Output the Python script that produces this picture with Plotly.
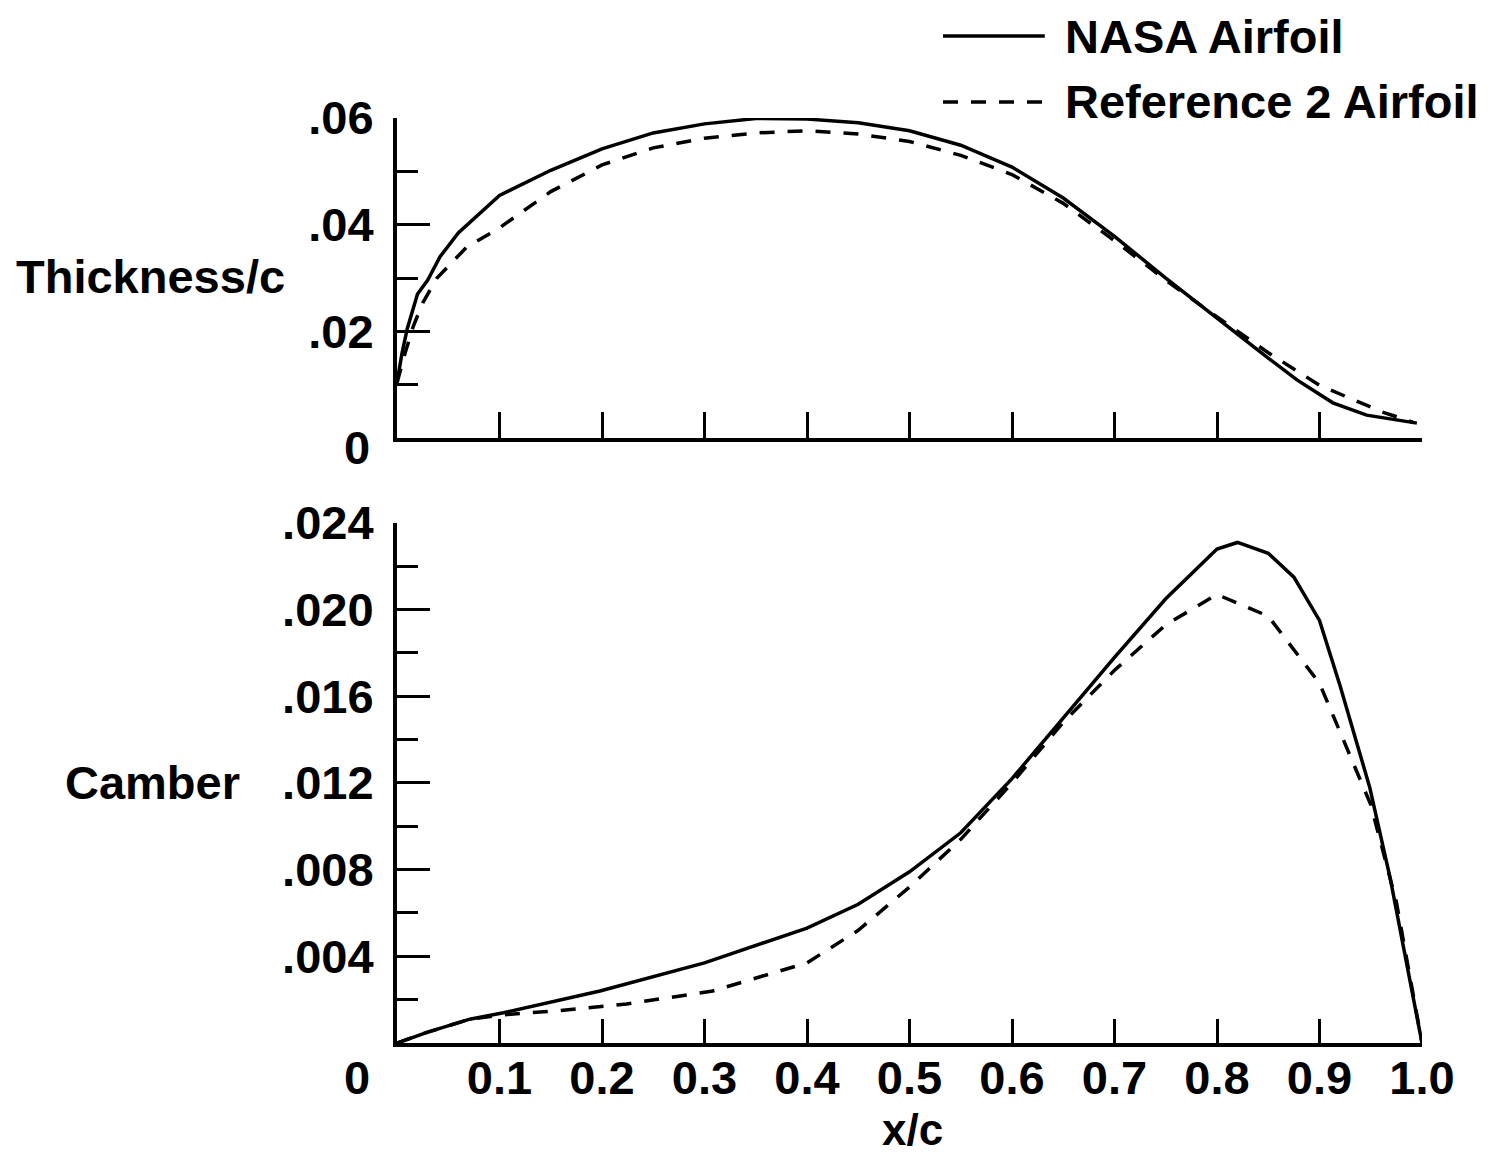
import plotly.graph_objects as go

# ---------------- data ----------------
series_names = ["NASA Airfoil", "Reference 2 Airfoil"]

thick_x_nasa = [0.0, 0.005, 0.01, 0.02, 0.03, 0.042, 0.06, 0.081, 0.1, 0.15, 0.2, 0.25, 0.3, 0.35,
                0.4, 0.45, 0.5, 0.55, 0.6, 0.65, 0.7, 0.75, 0.8, 0.85, 0.878, 0.913, 0.946, 0.979, 0.995]
thick_y_nasa = [0.0105, 0.016, 0.0205, 0.027, 0.0296, 0.034, 0.0385, 0.0422, 0.0455, 0.0502, 0.0542,
                0.0572, 0.0589, 0.0599, 0.0598, 0.0591, 0.0576, 0.0549, 0.0508, 0.0450, 0.0378, 0.0300,
                0.0224, 0.0150, 0.0109, 0.0066, 0.0043, 0.0032, 0.0028]

thick_x_ref = [0.0, 0.008, 0.016, 0.025, 0.039, 0.068, 0.1, 0.15, 0.2, 0.25, 0.3, 0.35, 0.4, 0.45,
               0.5, 0.55, 0.6, 0.65, 0.7, 0.75, 0.8, 0.85, 0.9, 0.933, 0.961, 0.991]
thick_y_ref = [0.0103, 0.016, 0.021, 0.0253, 0.030, 0.0358, 0.0394, 0.0462, 0.0512, 0.0544, 0.0562,
               0.0572, 0.0576, 0.0570, 0.0556, 0.0530, 0.0494, 0.0440, 0.0370, 0.0296, 0.0227, 0.0160,
               0.0099, 0.0071, 0.0049, 0.0030]

camb_x_nasa = [0.0, 0.03, 0.071, 0.104, 0.198, 0.3, 0.4, 0.45, 0.5, 0.55, 0.6, 0.65, 0.7, 0.75,
               0.8, 0.82, 0.85, 0.875, 0.9, 0.92, 0.949, 0.969, 0.988, 1.0]
camb_y_nasa = [0.0, 0.0005, 0.0011, 0.0014, 0.0024, 0.0037, 0.0053, 0.0064, 0.0079, 0.0097, 0.0122,
               0.0150, 0.0178, 0.0205, 0.0228, 0.0231, 0.0226, 0.0215, 0.0195, 0.0165, 0.0118, 0.0076,
               0.0029, 0.0]

camb_x_ref = [0.0, 0.03, 0.071, 0.104, 0.159, 0.224, 0.308, 0.4, 0.45, 0.5, 0.55, 0.6, 0.65, 0.7,
              0.75, 0.8, 0.85, 0.9, 0.95, 0.975, 1.0]
camb_y_ref = [0.0, 0.0005, 0.0011, 0.0013, 0.0015, 0.0018, 0.0024, 0.0037, 0.0052, 0.0072, 0.0094,
              0.0120, 0.0148, 0.0172, 0.0193, 0.0207, 0.0197, 0.0166, 0.0110, 0.0065, 0.0]

x_tickvals = [0.1, 0.2, 0.3, 0.4, 0.5, 0.6, 0.7, 0.8, 0.9, 1.0]
x_ticktext = ["0.1", "0.2", "0.3", "0.4", "0.5", "0.6", "0.7", "0.8", "0.9", "1.0"]
thick_tickvals = [0, 0.02, 0.04, 0.06]
thick_ticktext = ["", ".02", ".04", ".06"]
camb_tickvals = [0.004, 0.008, 0.012, 0.016, 0.020, 0.024]
camb_ticktext = [".004", ".008", ".012", ".016", ".020", ".024"]
zero_label = "0"

# ---------------- figure ----------------
FONT = "Liberation Sans, Arial, Helvetica, sans-serif"
FS = 47
LW = 3.5
DASH = "15px,13px"

fig = go.Figure()
fig.add_trace(go.Scatter(x=thick_x_nasa, y=thick_y_nasa, mode="lines", name=series_names[0],
                         line=dict(color="black", width=LW), xaxis="x", yaxis="y", showlegend=False))
fig.add_trace(go.Scatter(x=thick_x_ref, y=thick_y_ref, mode="lines", name=series_names[1],
                         line=dict(color="black", width=LW, dash=DASH), xaxis="x", yaxis="y", showlegend=False))
fig.add_trace(go.Scatter(x=camb_x_nasa, y=camb_y_nasa, mode="lines", name=series_names[0],
                         line=dict(color="black", width=LW), xaxis="x2", yaxis="y2", showlegend=False))
fig.add_trace(go.Scatter(x=camb_x_ref, y=camb_y_ref, mode="lines", name=series_names[1],
                         line=dict(color="black", width=LW, dash=DASH), xaxis="x2", yaxis="y2", showlegend=False))

axis_common = dict(showgrid=False, zeroline=False, showline=True, linecolor="black", linewidth=4,
                   ticks="inside", tickcolor="black", tickwidth=3)

# page body has an 8px margin in the browser; figure is sized to fit inside it
fig.update_layout(
    width=1486, height=1147,
    paper_bgcolor="white", plot_bgcolor="white",
    margin=dict(l=389, r=72, t=110, b=112),
    font=dict(family=FONT, size=FS, color="black", weight="bold"),
    xaxis=dict(domain=[0, 1], range=[0, 1], anchor="y", tickvals=x_tickvals, ticklen=26,
               showticklabels=False, **axis_common),
    yaxis=dict(domain=[0.654, 1], range=[0, 0.06], anchor="x", tickvals=thick_tickvals,
               ticktext=thick_ticktext, ticklen=33, ticklabelstandoff=10,
               minor=dict(dtick=0.01, tick0=0, ticks="inside", ticklen=21, tickwidth=3, tickcolor="black"),
               **axis_common),
    xaxis2=dict(domain=[0, 1], range=[0, 1], anchor="y2", tickvals=x_tickvals, ticktext=x_ticktext,
                ticklen=24, ticklabelstandoff=-9, **axis_common),
    yaxis2=dict(domain=[0, 0.5622], range=[0, 0.024], anchor="x2", tickvals=camb_tickvals,
                ticktext=camb_ticktext, ticklen=33, ticklabelstandoff=10,
                minor=dict(dtick=0.002, tick0=0, ticks="inside", ticklen=21, tickwidth=3, tickcolor="black"),
                **axis_common),
)

ann = dict(showarrow=False, font=dict(family=FONT, size=FS, color="black", weight="bold"))
fig.add_annotation(text="Thickness/c", xref="paper", yref="paper", x=-0.107, y=0.829,
                   xanchor="right", yanchor="middle", **ann)
fig.add_annotation(text="Camber", xref="paper", yref="paper", x=-0.151, y=0.282,
                   xanchor="right", yanchor="middle", **ann)
fig.add_annotation(text="x/c", xref="paper", yref="paper", x=0.503, y=-0.093,
                   xanchor="center", yanchor="middle", showarrow=False,
                   font=dict(family=FONT, size=44, color="black", weight="bold"))
# the shared "0" labels at the left ends of the two panels
fig.add_annotation(text=zero_label, xref="paper", yref="paper", x=-0.039, y=-0.0378,
                   xanchor="center", yanchor="middle", **ann)
fig.add_annotation(text=zero_label, xref="paper", yref="paper", x=-0.039, y=0.6443,
                   xanchor="center", yanchor="middle", **ann)

# custom legend (long line samples)
leg_y = [1.0886, 1.0173]
leg_dash = ["solid", DASH]
for name, yy, d in zip(series_names, leg_y, leg_dash):
    fig.add_shape(type="line", xref="paper", yref="paper", x0=0.5327, x1=0.632, y0=yy, y1=yy,
                  line=dict(color="black", width=3.5, dash=d))
    fig.add_annotation(text=name, xref="paper", yref="paper", x=0.65, y=yy,
                       xanchor="left", yanchor="middle", **ann)

fig.write_html("out.html")
